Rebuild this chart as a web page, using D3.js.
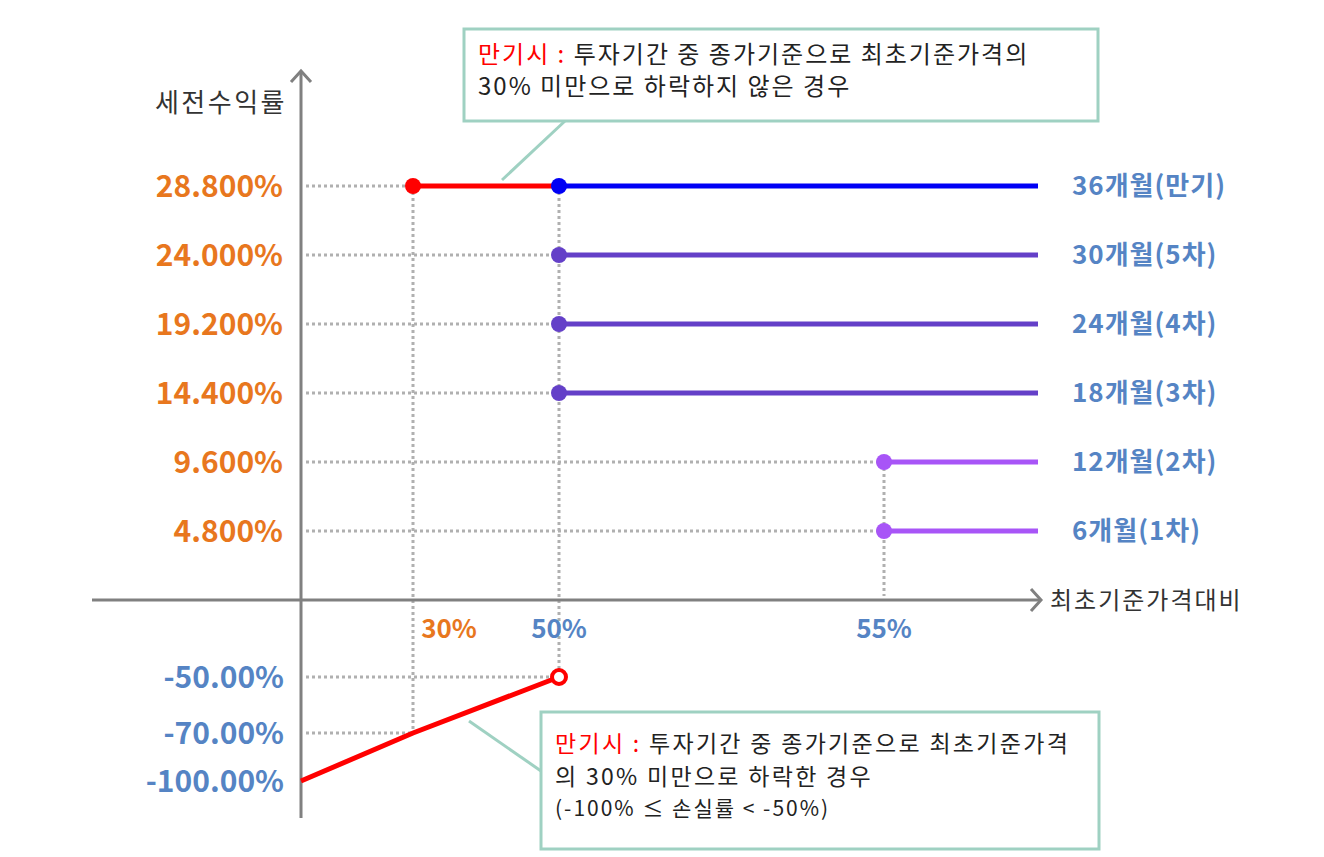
<!DOCTYPE html>
<html>
<head>
<meta charset="utf-8">
<script src="https://cdn.jsdelivr.net/npm/d3@7"></script>
<style>
  body { margin: 0; background: #fff; }
  svg text { font-family: "Noto Sans CJK KR", "Noto Sans", sans-serif; }
</style>
</head>
<body>
<div id="container"></div>
<script>
// chart values
var periods = ["6개월(1차)", "12개월(2차)", "18개월(3차)", "24개월(4차)", "30개월(5차)", "36개월(만기)"];
var couponRates = [4.8, 9.6, 14.4, 19.2, 24.0, 28.8];
var redemptionLevels = [55, 55, 50, 50, 50, 50];
var knockInLevel = 30;
var lossLevels = [0, 30, 50];
var lossRates = [-100, -70, -50];
var xTickValues = [30, 50, 55];
var negTickValues = [-50, -70, -100];

var width = 1324, height = 857;

// schematic (piecewise) scales, like the original drawing
var x = d3.scaleLinear().domain([0, 30, 50, 55, 60]).range([301, 413, 559, 884, 1038]);
var y = d3.scaleLinear().domain([-100, -70, -50, 0, 28.8]).range([781, 733, 677, 600, 186]);

var lineColor = function(i) {
  if (i == 5) return "#0000f5";
  if (i >= 2) return "#6440c8";
  return "#a855f7";
};
var orange = "#e8771e", blueText = "#5584c4", dotGray = "#b0b0b0", axisGray = "#808080", teal = "#9fd1c2";

var svg = d3.select("div#container")
  .append("svg")
  .attr("width", width)
  .attr("height", height);

// dotted guides
var guides = svg.append("g")
  .attr("fill", "none")
  .attr("stroke", dotGray)
  .attr("stroke-width", 3)
  .attr("stroke-dasharray", "3,3");

couponRates.forEach(function(r, i) {
  var xEnd = (i == 5) ? x(knockInLevel) : x(redemptionLevels[i]);
  guides.append("line").attr("x1", x(0) + 5).attr("x2", xEnd).attr("y1", y(r)).attr("y2", y(r));
});
// negative horizontal guides
guides.append("line").attr("x1", x(0) + 5).attr("x2", x(50)).attr("y1", y(-50)).attr("y2", y(-50));
guides.append("line").attr("x1", x(0) + 5).attr("x2", x(30)).attr("y1", y(-70)).attr("y2", y(-70));
// vertical guides
guides.append("line").attr("x1", x(30)).attr("x2", x(30)).attr("y1", y(28.8)).attr("y2", y(-70));
guides.append("line").attr("x1", x(50)).attr("x2", x(50)).attr("y1", y(28.8)).attr("y2", y(-50));
guides.append("line").attr("x1", x(55)).attr("x2", x(55)).attr("y1", y(9.6)).attr("y2", y(0) - 4);

// axes
var axes = svg.append("g").attr("stroke", axisGray).attr("stroke-width", 3).attr("fill", "none");
axes.append("line").attr("x1", x(0)).attr("x2", x(0)).attr("y1", 72).attr("y2", 818);
axes.append("path").attr("d", "M" + (x(0) - 10) + "," + 82 + " L" + x(0) + "," + 71 + " L" + (x(0) + 10) + "," + 82);
axes.append("line").attr("x1", 92).attr("x2", 1040).attr("y1", y(0)).attr("y2", y(0));
axes.append("path").attr("d", "M" + 1031 + "," + (y(0) - 11) + " L" + 1041 + "," + y(0) + " L" + 1031 + "," + (y(0) + 11));

// axis titles
svg.append("text").attr("x", 287).attr("y", 112).attr("text-anchor", "end")
  .style("font-size", "26px").style("letter-spacing", "2.5px").style("fill", "#333").text("세전수익률");
svg.append("text").attr("x", 1050).attr("y", 609)
  .style("font-size", "24px").style("letter-spacing", "2px").style("fill", "#333").text("최초기준가격대비");

// y labels
var fmtPos = d3.format(".3f"), fmtNeg = d3.format(".2f");
svg.selectAll("text.ypos").data(couponRates).enter().append("text")
  .attr("class", "ypos")
  .attr("x", 283).attr("y", function(d) { return y(d); }).attr("dy", "0.36em")
  .attr("text-anchor", "end")
  .style("font-size", "30px").style("font-weight", "bold").style("fill", orange)
  .text(function(d) { return fmtPos(d) + "%"; });
svg.selectAll("text.yneg").data(negTickValues).enter().append("text")
  .attr("class", "yneg")
  .attr("x", 284).attr("y", function(d) { return y(d); }).attr("dy", "0.36em")
  .attr("text-anchor", "end")
  .style("font-size", "30px").style("font-weight", "bold").style("fill", blueText)
  .text(function(d) { return fmtNeg(d).replace("−", "-") + "%"; });

// x labels
var xLabelShift = { 30: 36, 50: 0, 55: 0 };
svg.selectAll("text.xtick").data(xTickValues).enter().append("text")
  .attr("class", "xtick")
  .attr("x", function(d) { return x(d) + xLabelShift[d]; }).attr("y", 638)
  .attr("text-anchor", "middle")
  .style("font-size", "26px").style("font-weight", "bold")
  .style("fill", function(d) { return d == knockInLevel ? orange : blueText; })
  .text(function(d) { return d + "%"; });

// payoff lines
svg.append("line").attr("x1", x(knockInLevel)).attr("x2", x(50)).attr("y1", y(28.8)).attr("y2", y(28.8))
  .attr("stroke", "#ff0000").attr("stroke-width", 5);

svg.selectAll("line.payoff").data(couponRates).enter().append("line")
  .attr("class", "payoff")
  .attr("x1", function(d, i) { return x(redemptionLevels[i]); })
  .attr("x2", x(60))
  .attr("y1", function(d) { return y(d); }).attr("y2", function(d) { return y(d); })
  .attr("stroke", function(d, i) { return lineColor(i); })
  .attr("stroke-width", 5);

var lossLine = d3.line().x(function(d) { return x(d); }).y(function(d, i) { return y(lossRates[i]); });
svg.append("path").attr("d", lossLine(lossLevels))
  .attr("fill", "none").attr("stroke", "#ff0000").attr("stroke-width", 5);

// points
svg.append("circle").attr("cx", x(knockInLevel)).attr("cy", y(28.8)).attr("r", 8).attr("fill", "#ff0000");
svg.selectAll("circle.pt").data(couponRates).enter().append("circle")
  .attr("class", "pt")
  .attr("cx", function(d, i) { return x(redemptionLevels[i]); })
  .attr("cy", function(d) { return y(d); })
  .attr("r", 8)
  .attr("fill", function(d, i) { return lineColor(i); });
svg.append("circle").attr("cx", x(50)).attr("cy", y(-50)).attr("r", 7)
  .attr("fill", "#fff").attr("stroke", "#ff0000").attr("stroke-width", 4);

// period labels
svg.selectAll("text.period").data(periods).enter().append("text")
  .attr("class", "period")
  .attr("x", 1072).attr("y", function(d, i) { return y(couponRates[i]); }).attr("dy", "0.36em")
  .style("font-size", "26px").style("letter-spacing", "1px").style("font-weight", "bold").style("fill", blueText)
  .text(function(d) { return d; });

// callouts
var callout = svg.append("g");
callout.append("line").attr("x1", 565).attr("y1", 121).attr("x2", 502).attr("y2", 180)
  .attr("stroke", teal).attr("stroke-width", 3);
callout.append("rect").attr("x", 464).attr("y", 29).attr("width", 634).attr("height", 92)
  .attr("fill", "#fff").attr("stroke", teal).attr("stroke-width", 3);
var t1 = callout.append("text").attr("x", 478).attr("y", 63)
  .style("font-size", "24px").style("letter-spacing", "2px").style("fill", "#222");
t1.append("tspan").style("fill", "#ff0000").text("만기시 : ");
t1.append("tspan").text("투자기간 중 종가기준으로 최초기준가격의");
callout.append("text").attr("x", 478).attr("y", 95)
  .style("font-size", "24px").style("letter-spacing", "2px").style("fill", "#222")
  .text("30% 미만으로 하락하지 않은 경우");

var callout2 = svg.append("g");
callout2.append("line").attr("x1", 469).attr("y1", 721).attr("x2", 541).attr("y2", 771)
  .attr("stroke", teal).attr("stroke-width", 3);
callout2.append("rect").attr("x", 541).attr("y", 712).attr("width", 558).attr("height", 137)
  .attr("fill", "#fff").attr("stroke", teal).attr("stroke-width", 3);
var t2 = callout2.append("text").attr("x", 555).attr("y", 752)
  .style("font-size", "23px").style("letter-spacing", "2.3px").style("fill", "#222");
t2.append("tspan").style("fill", "#ff0000").text("만기시 : ");
t2.append("tspan").text("투자기간 중 종가기준으로 최초기준가격");
callout2.append("text").attr("x", 555).attr("y", 785)
  .style("font-size", "23px").style("letter-spacing", "2.3px").style("fill", "#222")
  .text("의 30% 미만으로 하락한 경우");
callout2.append("text").attr("x", 555).attr("y", 816)
  .style("font-size", "21px").style("letter-spacing", "2px").style("fill", "#222")
  .text("(-100% ≤ 손실률 < -50%)");
</script>
</body>
</html>
